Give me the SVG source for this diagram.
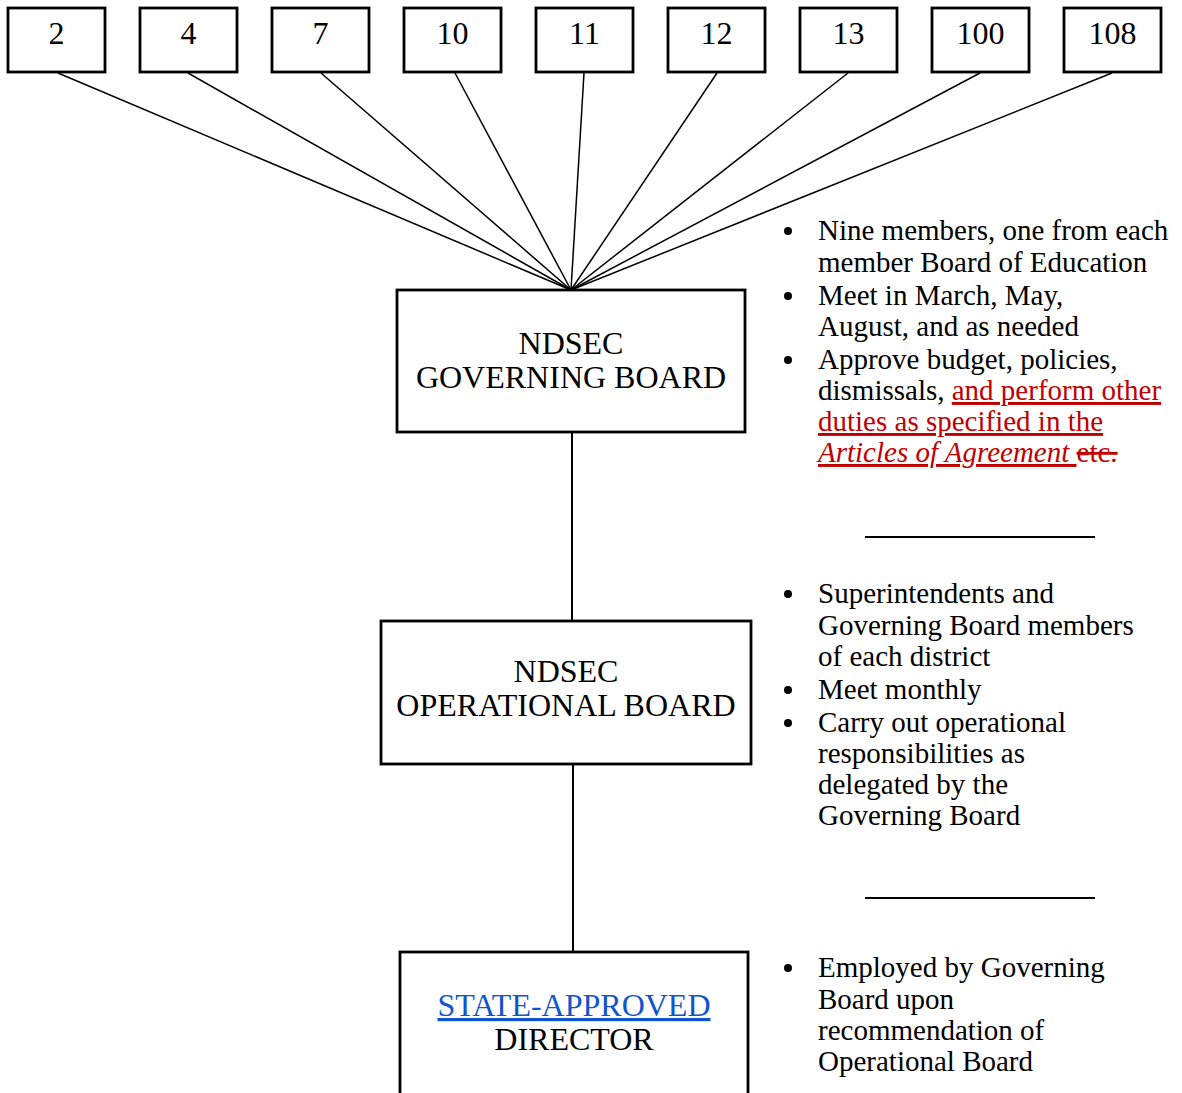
<svg xmlns="http://www.w3.org/2000/svg" width="1182" height="1093" viewBox="0 0 1182 1093">
<style>
.box{fill:#fff;stroke:#000;stroke-width:2.8}
.t{font-family:"Liberation Serif","Times New Roman",serif;font-size:32px;fill:#000;text-anchor:middle}
.b{font-family:"Liberation Serif","Times New Roman",serif;font-size:29px;fill:#000}
.red{fill:#C00000;text-decoration:underline}
.strike{fill:#C00000;text-decoration:line-through}
.blue{fill:#1155CC;text-decoration:underline}
.fan{stroke:#000;stroke-width:1.5;fill:none}
.conn{stroke:#000;stroke-width:2;fill:none}
.sep{stroke:#000;stroke-width:2}
</style>
<rect width="1182" height="1093" fill="#fff"/>
<g id="connectors">
<line class="fan" x1="58" y1="73" x2="571" y2="290"/>
<line class="fan" x1="188" y1="73" x2="571" y2="290"/>
<line class="fan" x1="321" y1="73" x2="571" y2="290"/>
<line class="fan" x1="455" y1="73" x2="571" y2="290"/>
<line class="fan" x1="584" y1="73" x2="571" y2="290"/>
<line class="fan" x1="717" y1="73" x2="571" y2="290"/>
<line class="fan" x1="848" y1="73" x2="571" y2="290"/>
<line class="fan" x1="980" y1="73" x2="571" y2="290"/>
<line class="fan" x1="1112" y1="73" x2="571" y2="290"/>
<line class="conn" x1="572" y1="432" x2="572" y2="621"/>
<line class="conn" x1="573" y1="764" x2="573" y2="952"/>
</g>
<g id="n2"><rect class="box" x="8" y="8" width="97" height="64"/><text class="t" x="56.5" y="44">2</text></g>
<g id="n4"><rect class="box" x="140" y="8" width="97" height="64"/><text class="t" x="188.5" y="44">4</text></g>
<g id="n7"><rect class="box" x="272" y="8" width="97" height="64"/><text class="t" x="320.5" y="44">7</text></g>
<g id="n10"><rect class="box" x="404" y="8" width="97" height="64"/><text class="t" x="452.5" y="44">10</text></g>
<g id="n11"><rect class="box" x="536" y="8" width="97" height="64"/><text class="t" x="584.5" y="44">11</text></g>
<g id="n12"><rect class="box" x="668" y="8" width="97" height="64"/><text class="t" x="716.5" y="44">12</text></g>
<g id="n13"><rect class="box" x="800" y="8" width="97" height="64"/><text class="t" x="848.5" y="44">13</text></g>
<g id="n100"><rect class="box" x="932" y="8" width="97" height="64"/><text class="t" x="980.5" y="44">100</text></g>
<g id="n108"><rect class="box" x="1064" y="8" width="97" height="64"/><text class="t" x="1112.5" y="44">108</text></g>
<g id="governing"><rect class="box" x="397" y="290" width="348" height="142"/>
<text class="t" x="571" y="354">NDSEC</text><text class="t" x="571" y="388">GOVERNING BOARD</text></g>
<g id="operational"><rect class="box" x="381" y="621" width="370" height="143"/>
<text class="t" x="566" y="682">NDSEC</text><text class="t" x="566" y="716">OPERATIONAL BOARD</text></g>
<g id="director"><rect class="box" x="400" y="952" width="348" height="160"/>
<text class="t" x="574" y="1016"><tspan class="blue">STATE-APPROVED</tspan></text><text class="t" x="574" y="1050">DIRECTOR</text></g>
<g id="notes1">
<circle cx="788" cy="231" r="4"/><circle cx="788" cy="296" r="4"/><circle cx="788" cy="360" r="4"/>
<text class="b" x="818" y="240">Nine members, one from each</text>
<text class="b" x="818" y="272">member Board of Education</text>
<text class="b" x="818" y="305">Meet in March, May,</text>
<text class="b" x="818" y="336">August, and as needed</text>
<text class="b" x="818" y="369">Approve budget, policies,</text>
<text class="b" x="818" y="400">dismissals, <tspan class="red">and perform other</tspan></text>
<text class="b" x="818" y="431"><tspan class="red">duties as specified in the</tspan></text>
<text class="b" x="818" y="462"><tspan class="red" font-style="italic">Articles of Agreement </tspan><tspan class="strike">etc.</tspan></text>
</g>
<line class="sep" x1="865" y1="537" x2="1095" y2="537"/>
<g id="notes2">
<circle cx="788" cy="594" r="4"/><circle cx="788" cy="690" r="4"/><circle cx="788" cy="723" r="4"/>
<text class="b" x="818" y="603">Superintendents and</text>
<text class="b" x="818" y="635">Governing Board members</text>
<text class="b" x="818" y="666">of each district</text>
<text class="b" x="818" y="699">Meet monthly</text>
<text class="b" x="818" y="732">Carry out operational</text>
<text class="b" x="818" y="763">responsibilities as</text>
<text class="b" x="818" y="794">delegated by the</text>
<text class="b" x="818" y="825">Governing Board</text>
</g>
<line class="sep" x1="865" y1="898" x2="1095" y2="898"/>
<g id="notes3">
<circle cx="788" cy="968" r="4"/>
<text class="b" x="818" y="977">Employed by Governing</text>
<text class="b" x="818" y="1009">Board upon</text>
<text class="b" x="818" y="1040">recommendation of</text>
<text class="b" x="818" y="1071">Operational Board</text>
</g>
</svg>
